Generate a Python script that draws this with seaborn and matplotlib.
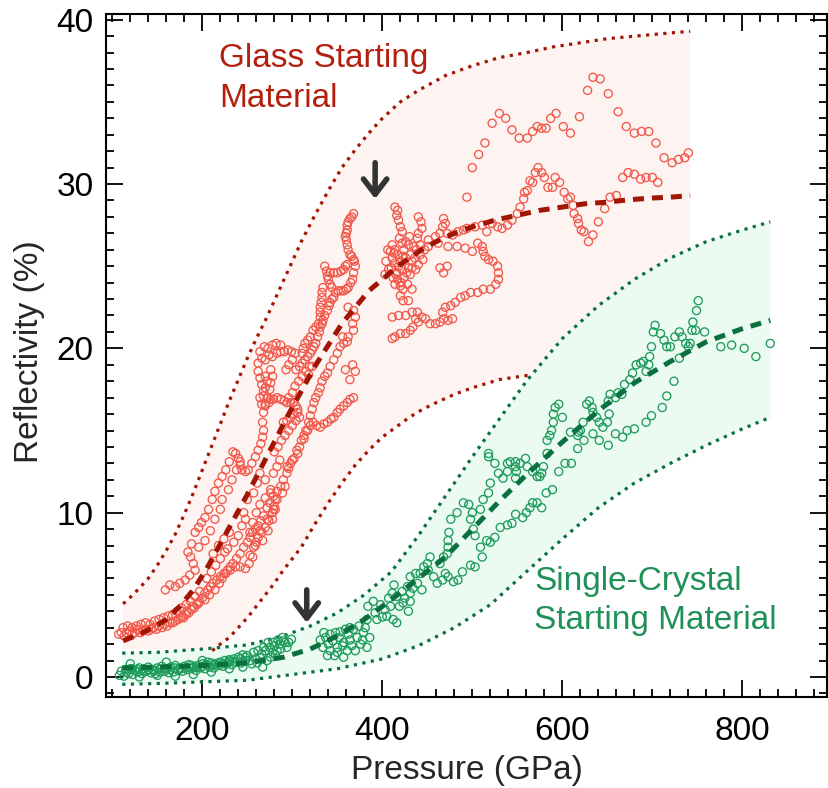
import matplotlib
matplotlib.use("Agg")
import matplotlib.pyplot as plt
from matplotlib.ticker import MultipleLocator
import pandas as pd
import seaborn as sns

sns.set_style("ticks")
plt.rcParams["font.family"] = ["Liberation Sans", "DejaVu Sans"]

# ---------------------------------------------------------------- fit curves
glass_fit_p = [112, 130, 145, 160, 175, 190, 205, 220, 235, 250, 265, 280, 295, 310, 325, 340,
               355, 370, 385, 400, 415, 430, 445, 460, 480, 500, 525, 550, 575, 600, 625, 650,
               675, 700, 720, 742]
glass_fit_r = [2.2, 2.6, 3.0, 3.5, 4.3, 5.3, 6.6, 8.1, 9.6, 11.1, 12.7, 14.3, 15.9, 17.4, 18.9,
               20.2, 21.5, 22.5, 23.5, 24.2, 24.9, 25.5, 26.05, 26.5, 27.0, 27.4, 27.8, 28.1,
               28.4, 28.6, 28.8, 28.9, 29.05, 29.15, 29.2, 29.3]

glass_hi_p = [112, 120, 130, 140, 150, 160, 170, 180, 190, 200, 210, 220, 230, 240, 250, 260,
              270, 280, 290, 300, 310, 325, 340, 355, 370, 385, 400, 420, 440, 470, 500, 530,
              560, 590, 620, 650, 680, 710, 742]
glass_hi_r = [4.45, 4.85, 5.4, 6.0, 6.8, 7.7, 8.7, 9.9, 11.2, 12.6, 14.0, 15.4, 16.8, 18.1, 19.4,
              20.6, 21.7, 22.9, 24.1, 25.3, 26.5, 28.1, 29.6, 31.0, 32.1, 33.1, 34.0, 35.0,
              35.7, 36.6, 37.2, 37.7, 38.0, 38.35, 38.6, 38.85, 39.0, 39.15, 39.3]

glass_lo_p = [211, 220, 230, 240, 250, 260, 270, 280, 290, 300, 310, 325, 340, 355, 370, 385,
              400, 415, 430, 445, 460, 480, 500, 530, 567]
glass_lo_r = [1.6, 2.0, 2.4, 3.0, 3.6, 4.3, 5.0, 5.7, 6.5, 7.2, 7.9, 9.3, 10.6, 11.8, 12.9,
              13.8, 14.6, 15.2, 15.8, 16.3, 16.7, 17.2, 17.6, 18.1, 18.4]
glass_floor = 1.7          # shaded band floor below the lower bound
glass_end_p = 742

xtal_p = [111, 150, 200, 250, 290, 320, 350, 380, 410, 440, 470, 500, 530, 560, 600, 640, 680,
          720, 760, 800, 831]
xtal_fit_r = [0.55, 0.6, 0.7, 0.85, 1.2, 1.7, 2.5, 3.5, 4.7, 6.0, 7.3, 9.0, 10.7, 12.3, 14.3,
              16.2, 17.9, 19.2, 20.4, 21.2, 21.7]
xtal_hi_r = [1.45, 1.5, 1.7, 1.95, 2.5, 3.1, 3.9, 5.0, 6.4, 8.6, 11.0, 13.4, 15.7, 18.0, 20.6,
             22.6, 24.2, 25.5, 26.5, 27.2, 27.7]
xtal_lo_p = [111, 150, 200, 250, 300, 350, 400, 440, 480, 520, 560, 600, 640, 680, 720, 760,
             800, 831]
xtal_lo_r = [-0.45, -0.4, -0.3, -0.2, 0.15, 0.5, 1.1, 1.9, 3.0, 4.4, 6.4, 8.4, 10.3, 11.8,
             13.0, 14.1, 15.1, 15.8]

# ---------------------------------------------------------------- measurements (P GPa, R %)
glass_bottom = [
    (107, 2.6), (110, 2.7), (113, 2.5), (116, 2.7), (119, 2.8), (122, 2.6), (125, 2.7),
    (128, 2.9), (131, 2.7), (134, 2.8), (137, 2.9), (140, 2.8), (143, 2.9), (146, 3.0),
    (149, 2.9), (152, 3.1), (155, 3.0), (158, 3.2), (161, 3.1), (164, 3.3), (167, 3.3),
    (170, 3.4), (173, 3.5), (176, 3.6), (179, 3.6), (182, 3.8), (185, 3.9), (188, 4.1),
    (191, 4.2), (194, 4.4), (197, 4.6), (200, 4.8),
    (112, 3.0), (117, 3.1), (122, 3.0), (127, 3.1), (132, 3.2), (137, 3.3), (142, 3.2),
    (147, 3.4), (152, 3.5), (157, 3.6), (162, 3.7), (167, 3.8), (172, 4.0), (177, 4.2),
    (182, 4.4), (187, 4.6), (192, 4.9), (197, 5.2),
]
glass_rise = [
    (203, 5.1), (206, 5.3), (209, 5.5), (212, 5.7), (216, 5.9), (220, 6.1), (224, 6.3),
    (228, 6.5), (231, 6.7), (234, 6.9), (238, 7.2), (242, 7.5), (246, 7.9), (250, 8.2),
    (253, 8.5), (256, 8.8), (259, 9.0), (262, 9.2), (265, 9.5), (268, 9.8), (272, 10.3),
    (275, 10.6), (279, 11.0), (283, 11.3), (287, 11.6), (290, 12.0), (294, 12.4),
    (296, 12.7), (298, 13.0), (302, 13.3), (306, 13.6), (308, 14.0), (310, 14.4),
    (313, 14.7), (317, 15.0), (320, 15.3), (323, 15.5), (327, 15.3), (331, 15.2),
    (335, 15.4), (339, 15.5), (343, 15.7), (346, 15.8), (350, 16.1), (353, 16.3),
    (357, 16.5), (361, 16.7), (364, 16.9), (368, 17.0),
    (178, 3.7), (183, 4.0), (189, 4.3), (196, 4.5), (203, 4.7), (208, 5.0), (214, 5.3),
    (219, 5.7), (222, 6.0), (226, 6.3), (231, 6.5), (237, 6.7), (242, 6.7), (248, 6.6),
    (252, 6.9), (256, 7.3), (257, 7.9), (260, 8.2), (262, 8.5), (266, 8.8), (270, 9.1),
    (274, 9.5), (278, 10.0), (280, 10.4), (281, 10.8),
    (253, 7.4), (259, 8.0), (267, 8.3), (273, 8.9), (278, 9.6), (281, 10.2), (276, 11.2),
    (270, 10.9), (264, 10.5), (260, 10.0), (256, 9.4), (253, 8.8),
    (280, 13.7), (284, 14.0), (288, 14.4), (292, 14.7), (296, 15.0), (300, 15.3),
    (304, 15.6), (308, 15.8), (286, 13.2), (283, 12.8),
    (283, 10.8), (289, 11.2), (292, 11.6), (279, 10.2), (272, 9.6), (264, 8.9), (276, 11.4),
    (270, 12.0), (279, 12.4), (294, 12.8), (300, 13.2), (305, 13.8),
    (246, 10.0), (250, 10.8), (257, 11.2), (261, 11.8), (264, 12.4),
    (205, 6.0), (210, 6.4), (215, 6.8), (220, 7.2), (225, 7.6), (212, 7.5), (218, 8.0),
    (224, 8.4), (230, 8.8), (228, 7.8), (235, 8.2), (240, 8.6), (244, 9.2), (248, 9.6),
    (290, 15.5), (294, 15.6), (298, 15.8), (302, 16.0), (306, 16.1),
]
glass_arm = [
    (159, 5.3), (164, 5.6), (170, 5.5), (175, 5.7), (181, 5.9), (186, 6.2), (192, 6.5),
    (190, 6.9), (187, 7.3), (184, 7.6), (188, 8.1), (192, 8.8), (196, 9.1), (199, 9.4),
    (203, 9.7), (207, 10.2), (211, 10.8), (214, 11.3), (218, 11.8), (222, 12.2),
    (226, 12.6), (230, 13.1), (234, 13.7), (237, 13.6), (240, 13.3), (242, 12.9),
    (244, 12.6), (248, 12.5), (251, 12.6), (255, 13.0), (259, 13.4), (262, 13.8),
    (265, 14.2), (267, 14.6), (268, 15.0), (267, 15.5), (268, 16.1), (270, 16.6),
    (273, 17.0), (275, 17.5), (276, 17.9), (278, 18.3), (276, 18.7),
    (196, 7.9), (203, 8.3), (209, 8.9), (214, 9.6), (220, 10.2), (222, 10.8), (229, 11.4),
    (233, 12.0), (238, 12.6), (242, 13.1),
]
glass_lobes = [
    (262, 19.1), (266, 19.4), (270, 19.3), (274, 19.6), (278, 19.5), (283, 19.7),
    (287, 19.8), (291, 19.8), (295, 19.9), (299, 19.8), (303, 19.7), (300, 19.3),
    (296, 19.0), (293, 18.7), (264, 19.8), (269, 20.1), (273, 20.0), (278, 20.2),
    (282, 20.3), (287, 20.2), (262, 18.6), (264, 18.2), (266, 17.8), (268, 17.4),
    (270, 18.3), (272, 18.0), (270, 17.6),
    (264, 17.0), (268, 17.1), (272, 17.0), (276, 16.9), (279, 16.9), (283, 17.0),
    (287, 16.9), (291, 16.8), (294, 16.7), (298, 16.7), (301, 16.7), (304, 16.5),
    (306, 16.3), (266, 16.6), (270, 16.5), (274, 16.7),
    (296, 17.0), (300, 17.3), (303, 17.7), (307, 18.0), (311, 18.3), (315, 18.6),
    (319, 18.9),
]
glass_upper = [
    (313, 14.5), (315, 15.0), (318, 15.5), (320, 15.9), (322, 16.3), (324, 16.7),
    (326, 17.0), (329, 17.3), (331, 17.6), (333, 18.0), (336, 18.3), (339, 18.5),
    (342, 18.9), (346, 19.3), (350, 19.7), (353, 20.1), (357, 20.3), (361, 20.4),
    (356, 20.7),
    (304, 18.7), (308, 18.9), (311, 19.1), (314, 19.3), (317, 19.5), (320, 19.7),
    (322, 19.9), (324, 20.1), (326, 20.3), (328, 20.7), (330, 21.0), (331, 21.3),
    (333, 21.5), (334, 21.7), (336, 22.0), (339, 22.3), (341, 22.6), (342, 22.8),
    (344, 23.0), (346, 23.1), (348, 23.4), (351, 23.5), (354, 23.5), (357, 23.5),
    (360, 23.6), (362, 23.7), (365, 24.0), (367, 24.2), (368, 24.6), (370, 25.0),
    (369, 25.3), (368, 25.4), (366, 25.6), (364, 25.7), (362, 26.0), (361, 26.3),
    (360, 26.6), (359, 26.8), (360, 27.0), (361, 27.2), (361, 27.5), (362, 27.7),
    (364, 27.9), (366, 28.0), (368, 28.2),
    (336, 25.0), (338, 24.7), (339, 24.4), (340, 24.2), (342, 24.6), (346, 24.6),
    (350, 24.6), (354, 24.7), (357, 24.8), (359, 25.0), (361, 25.1), (344, 23.7),
    (342, 23.9),
    (334, 23.7), (333, 23.4), (333, 23.1), (332, 22.8), (331, 22.5), (331, 22.2),
    (331, 21.9), (329, 21.5), (326, 21.3), (323, 21.1), (320, 20.7), (317, 20.5),
    (314, 20.3), (312, 20.0), (311, 19.7),
    (362, 22.5), (368, 22.3), (370, 21.9), (367, 21.5), (368, 21.1), (362, 20.7),
    (359, 18.7), (364, 18.1), (370, 18.6), (367, 19.0), (322, 18.9), (318, 18.4),
]
glass_cluster = [
    (414, 28.6), (417, 28.4), (416, 28.1), (418, 27.8), (420, 27.4), (422, 27.1),
    (419, 26.7), (422, 26.4),
    (411, 26.3), (414, 26.0), (417, 25.7), (411, 25.5), (414, 25.2), (420, 25.3),
    (426, 25.5), (431, 25.7), (424, 26.0), (429, 26.3), (433, 25.3), (429, 24.9),
    (422, 24.8), (416, 24.6), (410, 24.9), (412, 24.3), (417, 24.2), (424, 24.3),
    (431, 24.5), (437, 24.8), (440, 25.1), (436, 25.5), (438, 26.0), (442, 26.3),
    (442, 25.7), (420, 23.8), (428, 23.9), (414, 23.9), (445, 25.4), (447, 26.0),
    (404, 25.3), (407, 24.8), (403, 24.5),
    (413, 25.8), (418, 25.0), (423, 25.6), (427, 24.6), (433, 24.9), (435, 26.2),
    (426, 26.5), (409, 25.9), (415, 24.5), (421, 24.0), (430, 26.8), (406, 26.0),
    (440, 28.0), (443, 27.7), (444, 27.3), (440, 27.0), (439, 26.7),
    (468, 27.9), (470, 27.6), (467, 27.4),
    (451, 26.6), (459, 26.8), (464, 27.0), (472, 27.0), (478, 26.9), (484, 27.1),
    (490, 27.2), (494, 27.3), (503, 27.4), (511, 27.5),
    (451, 26.2), (462, 26.4), (473, 26.2), (483, 26.2), (492, 26.1), (500, 25.9),
    (506, 26.4), (511, 26.2), (512, 25.9), (514, 25.6), (518, 25.4), (523, 25.3),
    (528, 25.0), (529, 24.6), (529, 24.2), (526, 23.9), (520, 23.6), (512, 23.6),
    (506, 23.4), (498, 23.4), (492, 23.2), (487, 23.1), (481, 22.8), (476, 22.6),
    (470, 22.5), (467, 22.2), (468, 21.8), (473, 21.7), (478, 21.8), (464, 21.6),
    (459, 21.5), (453, 21.5),
    (411, 21.9), (418, 22.0), (426, 22.0), (433, 22.2), (439, 22.2), (444, 21.9),
    (448, 21.8), (437, 21.8), (440, 21.6), (434, 21.3), (431, 21.1), (426, 20.9),
    (420, 20.9), (414, 20.7), (411, 20.6),
    (423, 23.6), (433, 23.6), (420, 23.2), (423, 22.9), (429, 22.9),
    (464, 24.9), (472, 25.0), (468, 24.6),
]
glass_sparse = [
    (494, 29.2),
    (500, 31.0), (507, 31.8), (514, 32.5), (522, 33.7), (530, 34.3), (537, 34.0),
    (544, 33.3), (552, 32.8), (561, 32.8), (567, 33.2), (572, 33.5), (577, 33.4),
    (582, 33.4), (587, 34.0), (593, 34.3), (601, 33.5), (609, 33.1), (619, 34.1),
    (628, 35.7), (634, 36.5), (642, 36.4), (651, 35.5), (662, 34.4), (671, 33.5),
    (680, 33.1), (688, 33.2), (696, 33.2), (704, 32.5), (713, 31.6), (722, 31.3),
    (729, 31.5), (736, 31.6), (740, 31.9),
    (516, 27.1), (522, 27.6), (528, 27.4), (533, 27.3), (539, 27.5), (544, 27.8),
    (550, 28.2), (553, 28.6), (557, 29.1), (558, 29.5), (561, 29.6), (564, 30.2),
    (567, 30.1), (570, 30.7), (573, 31.0), (577, 30.7), (580, 30.4), (584, 29.8),
    (589, 29.8), (592, 30.4), (597, 30.1), (602, 29.5), (606, 29.1), (609, 29.2),
    (612, 28.7), (613, 28.2), (617, 27.9), (618, 27.6), (621, 27.2), (624, 27.1),
    (629, 26.5), (634, 26.9), (640, 27.7), (647, 28.5), (653, 29.2), (660, 29.3),
    (667, 30.4), (673, 30.7), (680, 30.6), (687, 30.3), (693, 30.4), (700, 30.4),
    (706, 30.1),
]

xtal_low = [
    (108, 0.1), (113, 0.05), (118, 0.2), (123, 0.15), (128, 0.3), (133, 0.2), (138, 0.35),
    (143, 0.25), (148, 0.2), (153, 0.3), (158, 0.35), (163, 0.25), (168, 0.3), (173, 0.4),
    (178, 0.35), (183, 0.45), (188, 0.5), (193, 0.4), (198, 0.55), (203, 0.5), (208, 0.6),
    (213, 0.55), (218, 0.7), (223, 0.65), (228, 0.8), (233, 0.75), (238, 0.9), (243, 0.85),
    (248, 1.0),
    (115, 0.45), (120, 0.5), (125, 0.4), (130, 0.55), (135, 0.5), (140, 0.6), (145, 0.45),
    (150, 0.55), (155, 0.65), (160, 0.5), (165, 0.6), (170, 0.7), (175, 0.55), (180, 0.65),
    (185, 0.75), (190, 0.6), (195, 0.7), (200, 0.8), (205, 0.75), (210, 0.85), (215, 0.8),
    (220, 0.9), (225, 1.0), (230, 0.95), (235, 1.1), (240, 1.2), (245, 1.35), (250, 1.3),
    (130, 0.0), (150, 0.1), (170, 0.05), (190, 0.15), (210, 0.3), (230, 0.5), (245, 0.6),
    (120, 0.8), (160, 0.9), (200, 1.0),
    (110, 0.35), (116, 0.3), (122, 0.5), (128, 0.45), (134, 0.35), (140, 0.45), (146, 0.35),
    (152, 0.45), (158, 0.5), (164, 0.45), (170, 0.55), (176, 0.5), (182, 0.55), (188, 0.7),
    (194, 0.6), (200, 0.65), (206, 0.9), (212, 0.7), (218, 0.85), (224, 0.8), (230, 1.05),
    (236, 0.95), (242, 1.1), (248, 1.2),
]
xtal_mid = [
    (253, 1.0), (257, 1.5), (262, 1.6), (268, 1.8), (273, 2.1), (279, 2.1), (284, 2.25),
    (289, 2.4), (292, 2.1), (296, 2.1), (261, 0.85), (267, 0.6), (272, 1.0), (278, 1.5),
    (283, 1.6), (264, 1.2),
    (255, 0.8), (259, 1.1), (266, 1.4), (270, 1.6), (275, 1.8), (280, 1.9), (286, 2.0),
    (290, 2.2), (294, 1.8), (299, 2.3), (276, 1.2), (281, 1.35), (287, 1.7),
    (331, 2.25), (337, 2.4), (342, 2.6), (348, 2.7), (353, 2.75), (359, 2.9), (364, 3.0),
    (334, 1.8), (342, 1.6), (350, 1.8), (357, 2.1), (364, 2.25), (372, 2.4), (378, 2.25),
    (383, 1.8), (339, 1.3), (350, 1.5), (361, 1.6), (370, 1.6), (379, 2.7), (383, 3.5),
    (384, 4.3), (390, 4.6), (394, 3.5), (400, 3.65), (403, 4.1), (409, 4.3), (412, 3.5),
    (416, 3.3), (411, 5.1), (416, 4.9), (422, 5.2), (428, 5.5), (431, 5.1), (423, 4.5),
    (429, 4.0), (431, 4.6), (439, 5.7), (442, 6.3), (446, 6.7), (450, 6.9), (453, 7.3),
    (451, 6.5), (457, 6.1), (461, 5.7), (467, 5.9), (470, 6.3), (473, 6.1), (479, 5.8),
    (484, 5.9), (489, 6.4), (464, 6.9), (468, 7.3), (473, 7.9), (473, 8.3), (474, 8.8),
    (472, 7.5), (476, 9.6), (483, 10.0), (490, 10.6), (496, 10.5), (500, 10.0),
    (509, 10.2), (512, 10.8), (518, 11.2), (520, 11.8), (518, 13.4), (518, 13.6),
    (525, 13.0), (529, 12.4), (498, 9.6), (501, 9.0), (503, 8.6), (509, 7.9), (516, 8.3),
    (520, 8.2), (525, 8.5), (498, 6.8), (503, 6.7), (511, 7.3), (431, 6.1),
    (345, 2.2), (352, 2.4), (356, 1.9), (362, 2.6), (368, 2.9), (374, 3.1), (366, 1.9),
    (340, 2.0), (335, 2.7), (347, 1.3), (357, 1.2), (376, 2.0), (386, 2.4), (381, 3.0),
    (392, 3.9), (398, 4.4), (405, 3.7), (407, 4.8), (413, 5.6), (419, 4.3), (425, 4.8),
    (434, 5.4), (437, 6.3), (444, 5.3),
]
xtal_high = [
    (531, 9.1), (539, 9.25), (544, 9.35),
    (534, 12.1), (539, 12.5), (539, 13.0), (542, 13.1), (548, 13.1), (548, 12.8),
    (549, 12.5), (548, 12.1), (553, 13.0), (559, 13.3), (561, 12.8), (567, 12.5),
    (572, 12.2), (575, 12.2), (577, 12.4), (579, 12.8), (583, 13.6), (583, 14.4),
    (586, 14.7), (588, 15.0), (590, 15.5), (590, 16.0), (592, 16.4), (596, 16.6),
    (600, 15.8), (582, 11.2), (589, 11.4), (596, 12.5), (603, 13.0), (610, 13.0),
    (609, 14.9), (617, 14.7), (618, 14.9), (620, 15.0), (617, 13.9), (624, 14.4),
    (623, 15.5), (627, 16.6), (630, 16.8), (633, 16.4), (634, 16.1), (638, 15.8),
    (641, 15.5), (645, 15.2), (650, 15.5), (652, 16.0), (634, 14.8), (641, 14.4),
    (651, 14.1), (659, 14.8), (667, 14.6), (672, 15.0), (680, 15.1), (693, 15.5),
    (699, 15.9), (711, 16.4), (716, 17.1), (724, 18.0), (653, 17.2), (659, 17.0),
    (662, 17.3), (666, 17.2), (651, 16.8), (669, 17.8), (675, 18.1), (678, 18.5),
    (682, 19.0), (687, 19.1), (690, 19.2), (693, 18.6), (696, 19.0), (697, 19.5),
    (699, 20.1), (701, 21.0), (703, 21.4), (709, 20.9), (713, 20.5), (716, 20.1),
    (720, 20.1), (725, 20.7), (730, 21.0), (733, 20.7), (730, 19.4), (737, 20.3),
    (740, 20.1), (742, 20.3), (744, 21.1), (745, 21.6), (748, 21.1), (749, 22.3),
    (751, 22.9), (758, 21.0), (776, 20.1), (788, 20.2), (802, 20.0), (815, 19.5),
    (831, 20.3),
    (548, 9.9), (556, 9.7), (560, 10.0), (564, 10.3), (567, 10.6), (572, 10.6),
    (577, 10.3),
]

# onset markers (pressure, arrow tip R, arrow tail R)
glass_onset = (392, 29.1, 31.3)
xtal_onset = (316, 3.3, 5.3)

# ---------------------------------------------------------------- styling
C_GLASS_PT = "#f2584a"
C_GLASS_LN = "#a11505"
C_GLASS_TXT = "#b3200e"
C_GLASS_FILL = "#fdf3f1"
C_XTAL_PT = "#1e9c5c"
C_XTAL_LN = "#0b7040"
C_XTAL_TXT = "#1f9156"
C_XTAL_FILL = "#ebfbf2"


def frame(points):
    return pd.DataFrame(points, columns=["P", "R"])


glass_df = pd.concat([frame(g) for g in (glass_bottom, glass_rise, glass_arm, glass_lobes,
                                         glass_upper, glass_cluster, glass_sparse)])
xtal_df = pd.concat([frame(g) for g in (xtal_low, xtal_mid, xtal_high)])

fig = plt.figure(figsize=(8.29, 7.88), dpi=100)
ax = fig.add_axes([106 / 829, 1 - 697 / 788, 721 / 829, 683 / 788])

# uncertainty bands
band_p = glass_hi_p + [glass_end_p] + glass_lo_p[::-1] + [glass_lo_p[0], glass_hi_p[0]]
band_r = glass_hi_r + [glass_lo_r[-1]] + glass_lo_r[::-1] + [glass_floor, glass_floor]
ax.fill(band_p, band_r, color=C_GLASS_FILL, lw=0, zorder=0)
ax.fill(xtal_p + xtal_lo_p[::-1], xtal_hi_r + xtal_lo_r[::-1], color=C_XTAL_FILL, lw=0, zorder=0.5)

dot = dict(linestyle=(0, (1, 1.7)), lw=2.3, zorder=2, estimator=None, sort=False, legend=False)
sns.lineplot(x=glass_hi_p, y=glass_hi_r, color=C_GLASS_LN, ax=ax, **dot)
sns.lineplot(x=glass_lo_p, y=glass_lo_r, color=C_GLASS_LN, ax=ax, **dot)
sns.lineplot(x=xtal_p, y=xtal_hi_r, color=C_XTAL_LN, ax=ax, **dot)
sns.lineplot(x=xtal_lo_p, y=xtal_lo_r, color=C_XTAL_LN, ax=ax, **dot)

for df, col in ((glass_df, C_GLASS_PT), (xtal_df, C_XTAL_PT)):
    sns.scatterplot(data=df, x="P", y="R", marker="o", s=34, color=col, ax=ax,
                    legend=False, zorder=3)
    pts = ax.collections[-1]
    pts.set_facecolor("none")
    pts.set_edgecolor(col)
    pts.set_linewidth(0.95)

dash = dict(linestyle=(0, (2.2, 1.6)), lw=3.6, zorder=4, estimator=None, sort=False, legend=False)
sns.lineplot(x=glass_fit_p, y=glass_fit_r, color=C_GLASS_LN, ax=ax, **dash)
sns.lineplot(x=xtal_p, y=xtal_fit_r, color=C_XTAL_LN, ax=ax, **dash)

for p, tip, tail in (glass_onset, xtal_onset):
    ax.annotate("", xy=(p, tip), xytext=(p, tail), zorder=5,
                arrowprops=dict(arrowstyle="->, head_length=0.55, head_width=0.42",
                                lw=4, color="#333333", mutation_scale=20,
                                shrinkA=0, shrinkB=0))

ax.text(219, 38.6, "Glass Starting\nMaterial", color=C_GLASS_TXT, fontsize=24,
        ha="left", va="top", linespacing=1.38, zorder=6)
ax.text(569, 6.75, "Single-Crystal\nStarting Material", color=C_XTAL_TXT, fontsize=24,
        ha="left", va="top", linespacing=1.35, zorder=6)

ax.set_xlim(93, 894)
ax.set_ylim(-1.22, 40.35)
ax.xaxis.set_major_locator(MultipleLocator(200))
ax.xaxis.set_minor_locator(MultipleLocator(20))
ax.yaxis.set_major_locator(MultipleLocator(10))
ax.yaxis.set_minor_locator(MultipleLocator(1))
ax.tick_params(which="both", direction="in", top=True, right=True, width=1.3,
               colors="black", labelsize=24)
ax.tick_params(which="major", length=12)
ax.tick_params(which="minor", length=6)
ax.tick_params(axis="x", which="major", pad=14)
ax.tick_params(axis="y", which="major", pad=9)
for s in ax.spines.values():
    s.set_linewidth(1.5)
    s.set_color("black")

ax.set_xlabel("Pressure (GPa)", fontsize=24)
ax.set_ylabel("Reflectivity (%)", fontsize=24)
ax.xaxis.label.set_va("center")
ax.xaxis.set_label_coords(0.5, -(770 - 697) / 683)
ax.yaxis.label.set_va("center")
ax.yaxis.label.set_ha("center")
ax.yaxis.set_label_coords((30 - 106) / 721, (697 - 352) / 683)

fig.savefig("out.png", dpi=100)
